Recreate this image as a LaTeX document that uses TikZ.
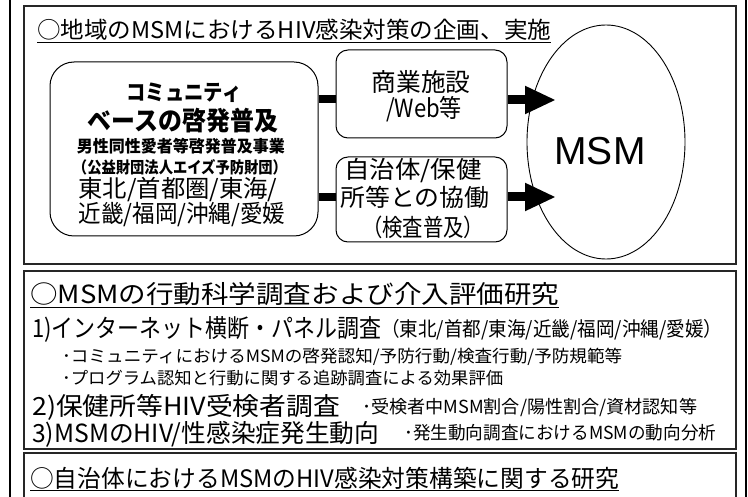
\documentclass[tikz,border=0pt]{standalone}
\usepackage{graphicx}
\usepackage{fontspec}
\setmainfont{Noto Sans CJK JP}
\newfontfamily\latf{Liberation Sans}
\usetikzlibrary{shapes.geometric,arrows.meta}
\newcommand{\tw}[3]{\resizebox{#1pt}{\height}{\fontsize{#2}{#2}\selectfont #3}}
\begin{document}
\begin{tikzpicture}[x=1pt,y=-1pt,
  panel/.style={draw=black!85,line width=1.1pt},
  rbox/.style={draw=black,line width=1pt,rounded corners=#1},
  lt/.style={inner sep=0,anchor=west},
  ct/.style={inner sep=0,anchor=center},
  uline/.style={line width=1pt},
  bar/.style={line width=8pt},
  arr/.style={line width=9pt,-{Triangle[length=31pt,width=26pt]}}]
\path[use as bounding box] (0,0) rectangle (748,497);
\clip (0,0) rectangle (748,497);
% outer frame
\draw[line width=2pt] (10,-2) -- (10,499);
\draw[line width=2pt] (746,-2) -- (746,499);
% panels
\node[panel,minimum width=712pt,minimum height=258pt,inner sep=0] (P1) at (380,135) {};
\node[panel,minimum width=712pt,minimum height=178pt,inner sep=0] (P2) at (380,360) {};
\draw[panel] (24,510) -- (24,453) -- (736,453) -- (736,510);
% title 1
\node[lt] (t1) at (37,30) {\tw{514}{23}{○地域のMSMにおけるHIV感染対策の企画、実施}};
\draw[uline] ([yshift=-1.5pt]t1.south west) -- ([yshift=-1.5pt]t1.south east);
% left box
\node[rbox=24pt,minimum width=268pt,minimum height=174pt,inner sep=0] (L) at (184,149) {};
\node[ct] (l1) at (184,93) {\tw{115}{22}{\bfseries コミュニティ}};
\node[ct] (l2) at (183,121) {\tw{190}{26}{\bfseries ベースの啓発普及}};
\node[ct] (l3) at (181,146) {\tw{208}{16.5}{\bfseries 男性同性愛者等啓発普及事業}};
\node[ct] (l4) at (180,167) {\tw{214}{16}{\bfseries （公益財団法人エイズ予防財団）}};
\node[ct] (l5) at (178,190) {\tw{199}{24}{東北/首都圏/東海/}};
\node[ct] (l6) at (182,215) {\tw{207}{24}{近畿/福岡/沖縄/愛媛}};
% middle boxes
\node[rbox=12pt,minimum width=171pt,minimum height=88pt,inner sep=0] (T) at (421.5,94) {};
\node[ct] (m1) at (421,82) {\tw{99}{25}{商業施設}};
\node[ct] (m2) at (424,109) {\tw{76}{25}{/Web等}};
\node[rbox=12pt,minimum width=171pt,minimum height=85pt,inner sep=0] (B) at (421.5,199.5) {};
\node[ct] (b1) at (413,171) {\tw{137}{24}{自治体/保健}};
\node[ct] (b2) at (415,197) {\tw{149}{24}{所等との協働}};
\node[ct] (b3) at (423,227) {\tw{122}{24}{（検査普及）}};
% ellipse
\node[ellipse,draw=black,line width=0.9pt,minimum width=158pt,minimum height=234pt,inner sep=0] (E) at (606,142) {};
\node[ct] (msm) at (600,151) {\latf\fontsize{39}{39}\selectfont MSM};
% connectors
\draw[bar] ([yshift=-5pt]T.west -| L.east) -- ([yshift=-5pt]T.west);
\draw[bar] ([yshift=2pt]B.west -| L.east) -- ([yshift=2pt]B.west);
\coordinate (e1) at ([xshift=-50pt,yshift=42pt]E.center);
\coordinate (e2) at ([xshift=-50pt,yshift=-55pt]E.center);
\draw[arr] ([yshift=-6pt]T.east) -- (e1);
\draw[arr] ([yshift=2.5pt]B.east) -- (e2);
% panel 2
\node[lt] (t2) at (30,294) {\tw{529}{25}{○MSMの行動科学調査および介入評価研究}};
\draw[uline] ([yshift=-1.5pt]t2.south west) -- ([yshift=-1.5pt]t2.south east);
\node[lt] (a1) at (32,329) {\tw{349}{25}{1)インターネット横断・パネル調査}};
\node[lt] (a2) at (381,330) {\tw{341}{20}{（東北/首都/東海/近畿/福岡/沖縄/愛媛）}};
\node[lt] (s1) at (62,357) {\tw{560}{17}{･コミュニティにおけるMSMの啓発認知/予防行動/検査行動/予防規範等}};
\node[lt] (s2) at (62,378) {\tw{441}{17}{･プログラム認知と行動に関する追跡調査による効果評価}};
\node[lt] (c1) at (32,407) {\tw{308}{25}{2)保健所等HIV受検者調査}};
\node[lt] (c2) at (362,408) {\tw{335}{18}{･受検者中MSM割合/陽性割合/資材認知等}};
\node[lt] (d1) at (32,434) {\tw{347}{25}{3)MSMのHIV/性感染症発生動向}};
\node[lt] (d2) at (404,433) {\tw{312}{18}{･発生動向調査におけるMSMの動向分析}};
% panel 3
\node[lt] (t3) at (30,478) {\tw{589}{24}{○自治体におけるMSMのHIV感染対策構築に関する研究}};
\draw[uline] ([yshift=-1.5pt]t3.south west) -- ([yshift=-1.5pt]t3.south east);
\end{tikzpicture}
\end{document}
